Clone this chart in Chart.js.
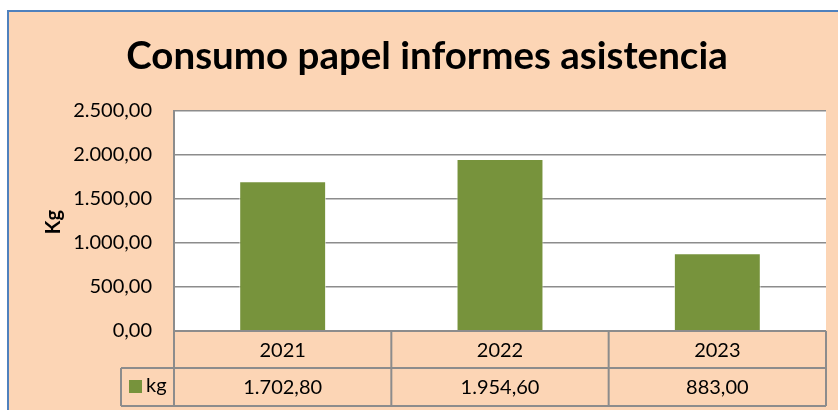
<!DOCTYPE html>
<html lang="es">
<head>
<meta charset="UTF-8">
<title>Consumo papel informes asistencia</title>
<script src="https://cdn.jsdelivr.net/npm/chart.js"></script>
<style>
    body { margin: 0; background: #ffffff; }
    #caja { width: 838px; height: 410px; }
</style>
</head>
<body>
<div id="caja"><canvas id="grafica" width="838" height="410"></canvas></div>
<script>
// datos
const anios = ['2021', '2022', '2023'];
const consumoKg = [1702.80, 1954.60, 883.00];
const nombreSerie = 'kg';
const tituloGrafica = 'Consumo papel informes asistencia';
const tituloEjeY = 'Kg';
const ejeYMax = 2500;
const ejeYPaso = 500;

const verde = '#77933C';
const melocoton = '#FCD5B5';
const gris = '#8C8C8C';
const fuente = 'Lato, "Open Sans", sans-serif';

// formato español: 1.702,80
function formatoEs(v) {
    const partes = v.toFixed(2).split('.');
    return partes[0].replace(/\B(?=(\d{3})+(?!\d))/g, '.') + ',' + partes[1];
}

const fondoPlugin = {
    id: 'fondo',
    beforeDraw(chart) {
        const ctx = chart.ctx;
        const a = chart.chartArea;
        ctx.save();
        ctx.fillStyle = '#ffffff';
        ctx.fillRect(0, 0, chart.width, chart.height);
        ctx.fillStyle = melocoton;
        ctx.fillRect(8, 11, chart.width - 8, chart.height - 11);
        // borde azul arriba e izquierda
        ctx.strokeStyle = '#4F81BD';
        ctx.lineWidth = 2;
        ctx.beginPath();
        ctx.moveTo(8, chart.height);
        ctx.lineTo(8, 11);
        ctx.lineTo(chart.width, 11);
        ctx.stroke();
        // area del grafico blanca
        ctx.fillStyle = '#ffffff';
        ctx.fillRect(a.left, a.top, a.right - a.left, a.bottom - a.top);
        ctx.restore();
    },
    afterDraw(chart) {
        const ctx = chart.ctx;
        const a = chart.chartArea;
        const x = chart.scales.x;
        ctx.save();

        // titulo
        ctx.fillStyle = '#000';
        ctx.font = 'bold 38.5px ' + fuente;
        ctx.textAlign = 'center';
        ctx.textBaseline = 'middle';
        ctx.fillText(tituloGrafica, 427, 57);

        // titulo eje Y
        ctx.save();
        ctx.translate(54, 222);
        ctx.rotate(-Math.PI / 2);
        ctx.font = 'bold 20px ' + fuente;
        ctx.fillText(tituloEjeY, 0, 0);
        ctx.restore();

        // tabla de datos
        const fila1 = a.bottom;
        const fila2 = a.bottom + 37;
        const fin = a.bottom + 75;
        const ancho = (a.right - a.left) / anios.length;
        const leyIzq = 121;

        ctx.strokeStyle = gris;
        ctx.lineWidth = 2;
        ctx.beginPath();
        ctx.moveTo(a.left, fila1); ctx.lineTo(a.right, fila1);
        ctx.moveTo(leyIzq, fila2); ctx.lineTo(a.right, fila2);
        ctx.moveTo(leyIzq, fin); ctx.lineTo(a.right, fin);
        ctx.moveTo(leyIzq, fila2); ctx.lineTo(leyIzq, fin);
        ctx.moveTo(a.left, a.top); ctx.lineTo(a.left, fin);
        for (let i = 1; i <= anios.length; i++) {
            const px = x.getPixelForValue(i - 1) + ancho / 2;
            ctx.moveTo(px, fila1); ctx.lineTo(px, fin);
        }
        ctx.stroke();

        ctx.fillStyle = '#000';
        ctx.font = '20px ' + fuente;
        ctx.textAlign = 'center';
        anios.forEach((anio, i) => {
            const cx = x.getPixelForValue(i);
            ctx.fillText(anio, cx, (fila1 + fila2) / 2 + 1);
            ctx.fillText(formatoEs(consumoKg[i]), cx, (fila2 + fin) / 2 + 1);
        });

        // leyenda dentro de la tabla
        ctx.fillStyle = verde;
        ctx.fillRect(129, (fila2 + fin) / 2 - 7, 13, 13);
        ctx.fillStyle = '#000';
        ctx.textAlign = 'left';
        ctx.fillText(nombreSerie, 146, (fila2 + fin) / 2 - 1);

        ctx.restore();
    }
};

const ctx = document.getElementById('grafica').getContext('2d');
new Chart(ctx, {
    type: 'bar',
    data: {
        labels: anios,
        datasets: [{
            label: nombreSerie,
            data: consumoKg,
            backgroundColor: verde,
            borderColor: 'rgba(255,255,255,0.6)',
            borderWidth: 1,
            barPercentage: 0.4,
            categoryPercentage: 1
        }]
    },
    options: {
        responsive: false,
        animation: false,
        layout: { padding: { left: 8, top: 111, right: 12, bottom: 79 } },
        plugins: {
            legend: { display: false },
            title: { display: false },
            tooltip: { enabled: false }
        },
        scales: {
            x: { display: false },
            y: {
                min: 0,
                max: ejeYMax,
                afterFit(scale) { scale.width = 166; },
                ticks: {
                    stepSize: ejeYPaso,
                    padding: 22,
                    color: '#000',
                    font: { family: fuente, size: 20 },
                    callback: v => formatoEs(v)
                },
                grid: { color: gris, lineWidth: 1.5, drawTicks: false },
                border: { display: true, color: gris, width: 2 }
            }
        }
    },
    plugins: [fondoPlugin]
});
</script>
</body>
</html>
